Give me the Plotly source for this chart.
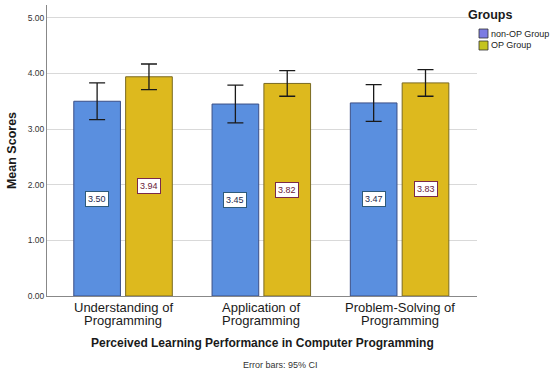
import plotly.graph_objects as go

categories = ["Understanding of<br>Programming", "Application of<br>Programming", "Problem-Solving of<br>Programming"]
groups = ["non-OP Group", "OP Group"]
non_op_means = [3.50, 3.45, 3.47]
op_means = [3.94, 3.82, 3.83]
non_op_err = [0.33, 0.34, 0.33]
op_err = [0.23, 0.23, 0.24]
y_ticks = [0, 1, 2, 3, 4, 5]

bar_colors = ["#5A8FDF", "#DDB91E"]
bar_lines = ["#3B4F86", "#7A6A22"]
legend_colors = ["#7B7BE3", "#C4C41E"]
label_text_colors = ["#1E2A50", "#6A1838"]
label_border_colors = ["#2E5A7A", "#7A2A4A"]

FONT = "Liberation Sans, Arial"
L, R, T, B, W, H = 47, 73, 5, 79, 550, 375

xs = list(range(len(categories)))
off = 0.1875
series = [non_op_means, op_means]
errs = [non_op_err, op_err]

def px(xp):
    return (xp - L) / (W - L - R)

def py(yp):
    return (H - B - yp) / (H - T - B)

fig = go.Figure()
for k in range(2):
    fig.add_trace(go.Bar(
        x=xs, y=series[k], name=groups[k], offsetgroup=str(k),
        marker=dict(color=bar_colors[k], line=dict(color=bar_lines[k], width=1)),
        error_y=dict(type="data", array=errs[k], visible=True, color="#1a1a1a", thickness=1.3, width=8),
        showlegend=False,
    ))

annotations = []
for k in range(2):
    sign = -1 if k == 0 else 1
    for i, v in enumerate(series[k]):
        annotations.append(dict(
            x=i + sign * off, y=v / 2, xref="x", yref="y", text=f"{v:.2f}", showarrow=False,
            font=dict(size=9, color=label_text_colors[k], family=FONT),
            bgcolor="white", bordercolor=label_border_colors[k], borderwidth=1, borderpad=2,
        ))

# category labels (two lines, tight spacing)
for i, c in enumerate(categories):
    for j, line in enumerate(c.split("<br>")):
        annotations.append(dict(x=i, y=py(307.5 + 12.5 * j), xref="x", yref="paper", text=line,
                                showarrow=False, yanchor="middle",
                                font=dict(size=13, color="#1a1a1a", family=FONT)))

# axis title
annotations.append(dict(x=px(262), y=py(343), xref="paper", yref="paper",
                        text="<b>Perceived Learning Performance in Computer Programming</b>",
                        showarrow=False, yanchor="middle", font=dict(size=12, color="#1a1a1a", family=FONT)))
annotations.append(dict(x=px(280), y=py(365), xref="paper", yref="paper", text="Error bars: 95% CI",
                        showarrow=False, yanchor="middle", font=dict(size=9, color="#333333", family=FONT)))

# manual legend
annotations.append(dict(x=px(514), y=py(15), xref="paper", yref="paper", text="<b>Groups</b>",
                        showarrow=False, yanchor="middle", font=dict(size=12.5, color="#1a1a1a", family=FONT)))
shapes = []
for k in range(2):
    y0 = 29 + 12 * k
    shapes.append(dict(type="rect", xref="paper", yref="paper",
                       x0=px(479), x1=px(488), y0=py(y0 + 9), y1=py(y0),
                       fillcolor=legend_colors[k], line=dict(color="#333333", width=0.8)))
    annotations.append(dict(x=px(489), y=py(y0 + 4.5), xref="paper", yref="paper", text=groups[k],
                            showarrow=False, xanchor="left", yanchor="middle",
                            font=dict(size=9, color="#1a1a1a", family=FONT)))

fig.update_layout(
    width=W, height=H,
    margin=dict(l=L, r=R, t=T, b=B, autoexpand=False),
    paper_bgcolor="white", plot_bgcolor="white",
    bargap=0.25, bargroupgap=0.1, barmode="group",
    font=dict(family=FONT, color="#1a1a1a"),
    xaxis=dict(
        range=[-0.55, 2.56], tickmode="array", tickvals=xs, showticklabels=False,
        showgrid=False, showline=True, linecolor="#888888", linewidth=1, ticks="",
        zeroline=False, automargin=False,
    ),
    yaxis=dict(
        range=[0, 5.23], tickmode="array", tickvals=y_ticks,
        ticktext=[f"{t:.2f}" for t in y_ticks],
        showgrid=True, gridcolor="#D9D9D9", gridwidth=1, zeroline=False,
        showline=True, linecolor="#888888", linewidth=1, ticks="",
        tickfont=dict(size=8.5, color="#333333"), automargin=False,
        title=dict(text="<b>Mean Scores</b>", font=dict(size=12.5, color="#1a1a1a"), standoff=8),
    ),
    annotations=annotations, shapes=shapes,
)

fig.write_html("out.html", config={"displayModeBar": False},
               post_script="document.body.style.margin='0';document.body.style.padding='0';")
